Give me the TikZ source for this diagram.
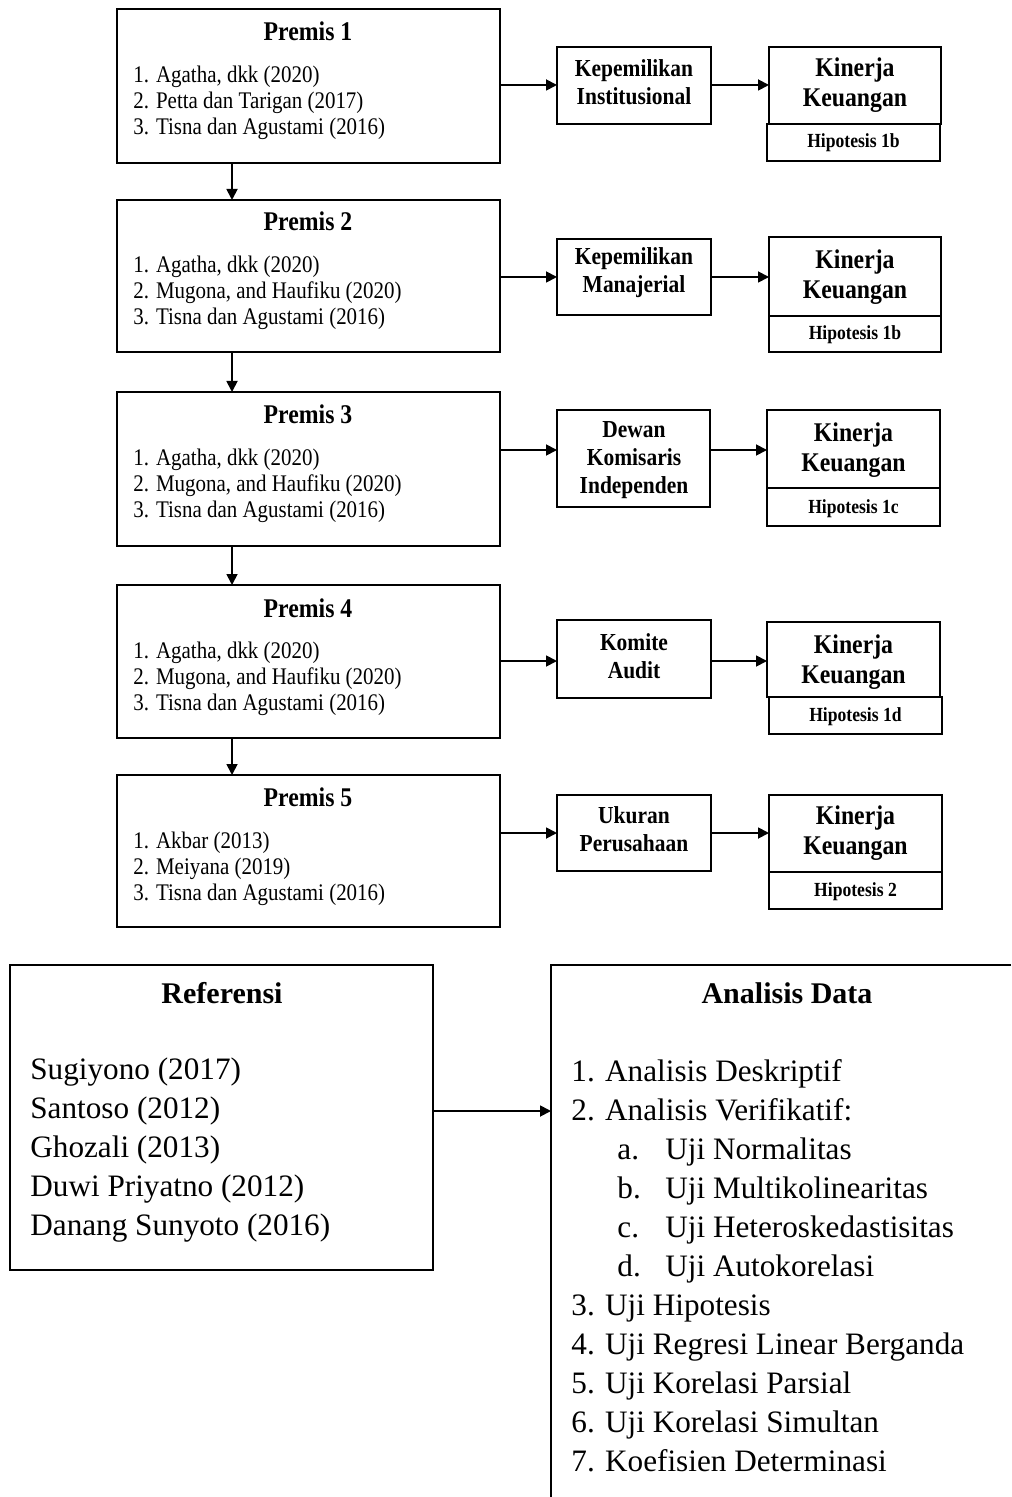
\documentclass[tikz,border=0pt]{standalone}
\usepackage{fontspec}
\setmainfont{Liberation Serif}
\newfontfamily\cf[FakeStretch=0.88]{Liberation Serif}
\usetikzlibrary{arrows.meta}
\begin{document}
\begin{tikzpicture}[x=0.5pt,y=-0.5pt,
  rbox/.style 2 args={draw, line width=0.9pt, inner sep=0pt, outer sep=0pt, minimum width=#1, minimum height=#2},
  thinbox/.style 2 args={draw, line width=0.6pt, inner sep=0pt, outer sep=0pt, minimum width=#1, minimum height=#2},
  arr/.style={line width=0.9pt, -{Triangle[length=5.5pt,width=5.5pt]}},
  ptitle/.style={inner sep=0pt, font=\cf\bfseries\fontsize{13.5}{15}\selectfont},
  plist/.style={inner sep=0pt, anchor=west, align=left, font=\cf\fontsize{11.9}{13}\selectfont},
  mtxt/.style={inner sep=0pt, align=center, font=\cf\bfseries\fontsize{12.2}{14}\selectfont},
  ktxt/.style={inner sep=0pt, align=center, font=\cf\bfseries\fontsize{13.5}{15}\selectfont},
  htxt/.style={inner sep=0pt, font=\cf\bfseries\fontsize{10}{12}\selectfont},
  btitle/.style={inner sep=0pt, font=\bfseries\fontsize{15}{18}\selectfont},
  blist/.style={inner sep=0pt, anchor=west, align=left, font=\fontsize{15.6}{19.5}\selectfont},
]
\useasboundingbox (0,0) rectangle (1011,1497);

% ---------- Premis boxes ----------
\node[rbox={191.5pt}{77pt}] (p1) at (308.5,86) {};
\node[rbox={191.5pt}{76pt}] (p2) at (308.5,276) {};
\node[rbox={191.5pt}{77pt}] (p3) at (308.5,469) {};
\node[rbox={191.5pt}{76.5pt}] (p4) at (308.5,661.5) {};
\node[rbox={191.5pt}{76pt}] (p5) at (308.5,851) {};

\node[ptitle] (t1) at (308,31) {Premis 1};
\node[plist] (l1) at (133,103) {1. Agatha, dkk (2020)\\2. Petta dan Tarigan (2017)\\3. Tisna dan Agustami (2016)};
\node[ptitle] (t2) at (308,221) {Premis 2};
\node[plist] (l2) at (133,293) {1. Agatha, dkk (2020)\\2. Mugona, and Haufiku (2020)\\3. Tisna dan Agustami (2016)};
\node[ptitle] (t3) at (308,414) {Premis 3};
\node[plist] (l3) at (133,486) {1. Agatha, dkk (2020)\\2. Mugona, and Haufiku (2020)\\3. Tisna dan Agustami (2016)};
\node[ptitle] (t4) at (308,608) {Premis 4};
\node[plist] (l4) at (133,679) {1. Agatha, dkk (2020)\\2. Mugona, and Haufiku (2020)\\3. Tisna dan Agustami (2016)};
\node[ptitle] (t5) at (308,797) {Premis 5};
\node[plist] (l5) at (133,869) {1. Akbar (2013)\\2. Meiyana (2019)\\3. Tisna dan Agustami (2016)};

% ---------- middle boxes ----------
\node[rbox={77pt}{38.5pt}] (m1) at (634,85.5) {};
\node[rbox={77pt}{38pt}] (m2) at (634,277) {};
\node[rbox={76.5pt}{48.5pt}] (m3) at (633.5,458.5) {};
\node[rbox={77pt}{39pt}] (m4) at (634,659) {};
\node[rbox={77pt}{38pt}] (m5) at (634,833) {};

\node[mtxt] (mt1) at (634,82) {Kepemilikan\\Institusional};
\node[mtxt] (mt2) at (634,273) {Kepemilikan\\Manajerial};
\node[mtxt] (mt3) at (634,460) {Dewan\\Komisaris\\Independen};
\node[mtxt] (mt4) at (634,656.5) {Komite\\Audit};
\node[mtxt] (mt5) at (634,829.5) {Ukuran\\Perusahaan};

% ---------- Kinerja Keuangan boxes ----------
\node[rbox={86pt}{38.5pt}] (k1) at (855,85.5) {};
\node[rbox={86.5pt}{18.5pt}] (h1) at (853.5,142.5) {};
\node[rbox={86pt}{39.5pt}] (k2) at (855,276.5) {};
\node[rbox={86pt}{18pt}] (h2) at (855,334) {};
\node[rbox={86.5pt}{39pt}] (k3) at (853.5,449) {};
\node[rbox={86.5pt}{19pt}] (h3) at (853.5,507) {};
\node[rbox={86.5pt}{37.5pt}] (k4) at (853.5,659.5) {};
\node[rbox={86.5pt}{18.5pt}] (h4) at (855.5,715.5) {};
\node[rbox={86.5pt}{38.5pt}] (k5) at (855.5,833.5) {};
\node[rbox={86.5pt}{18.5pt}] (h5) at (855.5,890.5) {};

\node[ktxt] (kt1) at (855,85) {Kinerja\\Keuangan};
\node[htxt] (ht1) at (853.5,143) {Hipotesis 1b};
\node[ktxt] (kt2) at (855,277) {Kinerja\\Keuangan};
\node[htxt] (ht2) at (855,335) {Hipotesis 1b};
\node[ktxt] (kt3) at (853.5,450) {Kinerja\\Keuangan};
\node[htxt] (ht3) at (853.5,509) {Hipotesis 1c};
\node[ktxt] (kt4) at (853.5,662) {Kinerja\\Keuangan};
\node[htxt] (ht4) at (855.5,717) {Hipotesis 1d};
\node[ktxt] (kt5) at (855.5,833) {Kinerja\\Keuangan};
\node[htxt] (ht5) at (855.5,892) {Hipotesis 2};

% ---------- arrow levels ----------
\coordinate (a1) at (0,85);
\coordinate (a2) at (0,277);
\coordinate (a3) at (0,450);
\coordinate (a4) at (0,661);
\coordinate (a5) at (0,833);
\coordinate (vx) at (232,0);

\foreach \i in {1,...,5}{
  \draw[arr] (p\i.east |- a\i) -- (m\i.west |- a\i);
  \draw[arr] (m\i.east |- a\i) -- (k\i.west |- a\i);
}
\draw[arr] (p1.south -| vx) -- (p2.north -| vx);
\draw[arr] (p2.south -| vx) -- (p3.north -| vx);
\draw[arr] (p3.south -| vx) -- (p4.north -| vx);
\draw[arr] (p4.south -| vx) -- (p5.north -| vx);

% ---------- bottom ----------
\node[thinbox={211.5pt}{152.5pt}] (ref) at (221.5,1117.5) {};
\node[btitle] (rt) at (222,993) {Referensi};
\node[blist] (rl) at (30,1150) {Sugiyono (2017)\\Santoso (2012)\\Ghozali (2013)\\Duwi Priyatno (2012)\\Danang Sunyoto (2016)};

\draw[line width=0.6pt] (1011,965) coordinate (adr) -- (551,965) coordinate (adc) -- (551,1497) coordinate (adb);
\coordinate (adin) at (551,1111);
\node[btitle] (at) at (787,993) {Analisis Data};
\node[blist] (al) at (571,1266) {1. Analisis Deskriptif\\
2. Analisis Verifikatif:\\
\hspace*{23pt}\makebox[24pt][l]{a.}Uji Normalitas\\
\hspace*{23pt}\makebox[24pt][l]{b.}Uji Multikolinearitas\\
\hspace*{23pt}\makebox[24pt][l]{c.}Uji Heteroskedastisitas\\
\hspace*{23pt}\makebox[24pt][l]{d.}Uji Autokorelasi\\
3. Uji Hipotesis\\
4. Uji Regresi Linear Berganda\\
5. Uji Korelasi Parsial\\
6. Uji Korelasi Simultan\\
7. Koefisien Determinasi};

\draw[arr] (ref.east |- adin) -- (adin);
\end{tikzpicture}
\end{document}
